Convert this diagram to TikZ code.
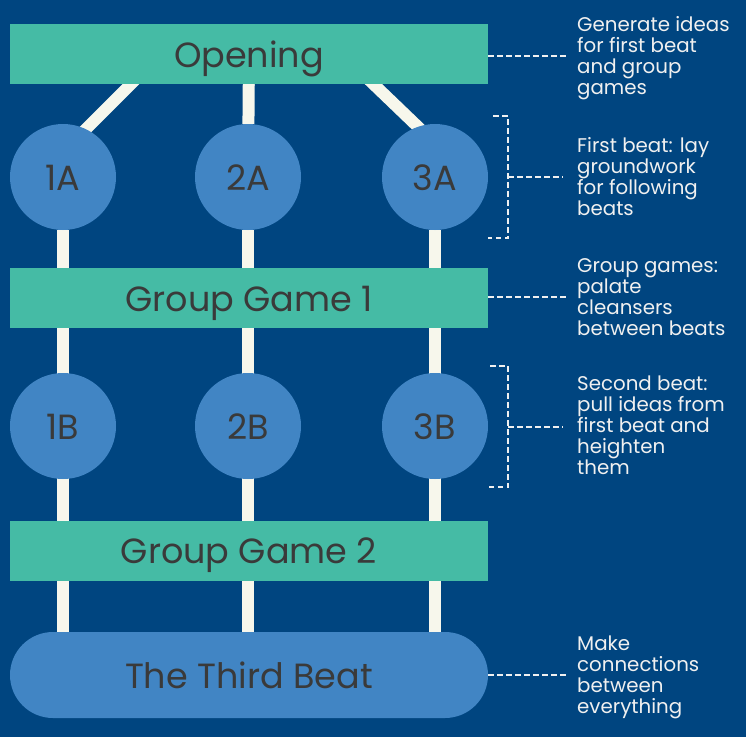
\documentclass[tikz,border=0pt]{standalone}
\usepackage{fontspec}
\setmainfont{Poppins}
\usetikzlibrary{calc}
\definecolor{bgblue}{RGB}{0,69,128}
\definecolor{boxgreen}{RGB}{69,187,165}
\definecolor{circblue}{RGB}{65,133,196}
\definecolor{labelgray}{RGB}{58,58,58}
\definecolor{cream}{RGB}{247,247,236}
\definecolor{notewhite}{RGB}{240,240,240}
\pgfdeclarelayer{back}
\pgfdeclarelayer{mid}
\pgfsetlayers{back,mid,main}
\tikzset{
  bigtext/.style={text=labelgray, font=\fontsize{35}{38}\selectfont, text height=30pt, text depth=4pt},
  greenbox/.style={rectangle, fill=boxgreen, minimum width=478pt, minimum height=60pt, inner sep=0pt, bigtext},
  beatcirc/.style={circle, fill=circblue, minimum size=106pt, inner sep=0pt, bigtext},
  pillbox/.style={rectangle, rounded corners=43pt, fill=circblue, minimum width=478pt, minimum height=86pt, inner sep=0pt, bigtext},
  track/.style={draw=cream, line width=12pt},
  notedash/.style={draw=notewhite, line width=1.5pt, dash pattern=on 5.5pt off 3.5pt},
  note/.style={anchor=north west, inner sep=0pt, align=left, text=notewhite, font=\fontsize{19.8}{21}\selectfont},
}
\begin{document}
\begin{tikzpicture}[x=1pt,y=-1pt]
\begin{pgfonlayer}{back}
\fill[bgblue] (0,0) rectangle (746,737);
\end{pgfonlayer}
\useasboundingbox (0,0) rectangle (746,737);
% main nodes
\node[greenbox] (open) at (249,54) {Opening};
\node[beatcirc] (a1) at (63,177) {1A};
\node[beatcirc] (a2) at (248,177) {2A};
\node[beatcirc] (a3) at (435,177) {3A};
\node[greenbox] (gg1) at (249,298) {Group Game 1};
\node[beatcirc] (b1) at (63,426) {1B};
\node[beatcirc] (b2) at (248,426) {2B};
\node[beatcirc] (b3) at (435,426) {3B};
\node[greenbox] (gg2) at (249,550.5) {Group Game 2};
\node[pillbox] (third) at (249,675) {The Third Beat};
% diagonal anchors
\coordinate (d1s) at (140,75);
\coordinate (d1e) at (70,145);
\coordinate (d3s) at (364,75);
\coordinate (d3e) at (440,148);
\begin{pgfonlayer}{mid}
\draw[track] (d1s) -- (d1e);
\draw[track] (d3s) -- (d3e);
\draw[track] (open) -- (a2);
\draw[track] (a1) -- (a1 |- third);
\draw[track] (a2) -- (a2 |- third);
\draw[track] (a3) -- (a3 |- third);
\end{pgfonlayer}
% notes
\node[note] (n1) at (577,16) {Generate ideas\\for first beat\\and group\\games};
\node[note] (n2) at (577,137) {First beat: lay\\groundwork\\for following\\beats};
\node[note] (n3) at (577,258) {Group games:\\palate\\cleansers\\between beats};
\node[note] (n4) at (577,376) {Second beat:\\pull ideas from\\first beat and\\heighten\\them};
\node[note] (n5) at (577,636) {Make\\connections\\between\\everything};
% dashed connectors
\coordinate (o1) at (566,56);
\draw[notedash] (open.east |- o1) -- (o1);
\coordinate (g1) at (566,297);
\draw[notedash] (gg1.east |- g1) -- (g1);
\coordinate (t1) at (566,675);
\draw[notedash] (third.east |- t1) -- (t1);
% brackets
\coordinate (ba1) at (493,116);
\coordinate (ba2) at (508,116);
\coordinate (ba3) at (508,238);
\coordinate (ba4) at (488,238);
\coordinate (bam) at (508,177);
\coordinate (bae) at (563,177);
\draw[notedash] (ba1) -- (ba2) -- (ba3) -- (ba4);
\draw[notedash] (bam) -- (bae);
\coordinate (bb1) at (490,366);
\coordinate (bb2) at (508,366);
\coordinate (bb3) at (508,487);
\coordinate (bb4) at (488,487);
\coordinate (bbm) at (508,427);
\coordinate (bbe) at (563,427);
\draw[notedash] (bb1) -- (bb2) -- (bb3) -- (bb4);
\draw[notedash] (bbm) -- (bbe);
\end{tikzpicture}
\end{document}
